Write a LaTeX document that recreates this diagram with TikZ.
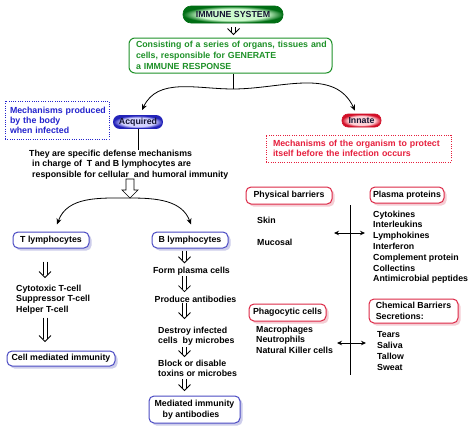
\documentclass[tikz,border=0pt]{standalone}
\usepackage{fontspec}
\setmainfont{Liberation Sans}
\usetikzlibrary{arrows.meta,shadows,calc}
\definecolor{gtxt}{RGB}{30,145,40}
\definecolor{gdark}{RGB}{0,110,20}
\definecolor{glight}{RGB}{205,250,205}
\definecolor{btxt}{RGB}{35,35,205}
\definecolor{bbord}{RGB}{75,75,195}
\definecolor{bdark}{RGB}{35,35,185}
\definecolor{blight}{RGB}{210,210,255}
\definecolor{rtxt}{RGB}{230,30,60}
\definecolor{rbord}{RGB}{220,40,70}
\definecolor{rdark}{RGB}{210,15,40}
\definecolor{rlight}{RGB}{255,210,215}
\definecolor{bshad}{RGB}{205,205,235}
\definecolor{rshad}{RGB}{245,205,212}
\definecolor{ptxt}{RGB}{20,20,50}
\pgfdeclareradialshading{gpillshade}{\pgfpoint{0bp}{0bp}}{color(0bp)=(glight); color(17bp)=(glight); color(25bp)=(gdark); color(50bp)=(gdark)}
\pgfdeclareradialshading{bpillshade}{\pgfpoint{0bp}{0bp}}{color(0bp)=(blight); color(17bp)=(blight); color(25bp)=(bdark); color(50bp)=(bdark)}
\pgfdeclareradialshading{rpillshade}{\pgfpoint{0bp}{0bp}}{color(0bp)=(rlight); color(17bp)=(rlight); color(25bp)=(rdark); color(50bp)=(rdark)}
\tikzset{
  every node/.style={font=\fontsize{8.8}{10.8}\selectfont\bfseries, inner sep=0pt},
  pillg/.style={shading=gpillshade, draw=gdark, line width=0.6pt, rounded corners=8pt, text=ptxt},
  pillb/.style={shading=bpillshade, draw=bdark, line width=0.6pt, rounded corners=6pt, text=ptxt},
  pillr/.style={shading=rpillshade, draw=rdark, line width=0.6pt, rounded corners=6pt, text=ptxt},
  gbox/.style={draw=gtxt, line width=1pt, rounded corners=6pt, text=gtxt, align=left},
  dotbox/.style={line width=1pt, dash pattern=on 1pt off 1.3pt, align=left},
  tbox/.style={draw=bbord, line width=1pt, fill=white, rounded corners=5pt,
    drop shadow={fill=bshad, shadow xshift=2.5pt, shadow yshift=-2.5pt, opacity=1}},
  rbox/.style={draw=rbord, line width=1pt, fill=white, rounded corners=5pt,
    drop shadow={fill=rshad, shadow xshift=2.5pt, shadow yshift=-2.5pt, opacity=1}},
  lst/.style={align=left, anchor=north west},
  dline/.style={line width=0.75pt},
  dhead/.style={line width=0.8pt},
  carrow/.style={line width=0.8pt, -{Stealth[length=6pt,width=5pt]}},
  harrow/.style={line width=0.8pt, {Stealth[length=5pt,width=4.5pt]}-{Stealth[length=5pt,width=4.5pt]}},
}
% double (hollow) down arrow from #1 to tip #2: two parallel lines and an open V head
\newcommand\dblarrow[2]{%
  \coordinate (dA) at #1; \coordinate (dB) at #2;
  \draw[dline] ($(dA)+(-2.1,0)$) -- ($(dB)+(-2.1,-2.3)$);
  \draw[dline] ($(dA)+(2.1,0)$) -- ($(dB)+(2.1,-2.3)$);
  \draw[dhead] ($(dB)+(-6,-6)$) -- (dB) -- ($(dB)+(6,-6)$);}
\begin{document}
\begin{tikzpicture}[x=1pt,y=-1pt]
\useasboundingbox[fill=white] (0,0) rectangle (474,434);

% top
\node[pillg, minimum width=100pt, minimum height=17pt] (imm) at (233,14.5) {IMMUNE SYSTEM};
\node[gbox, minimum width=203pt, minimum height=35pt, text width=199pt, inner xsep=2pt] (gen) at (230.5,55.5)
  {\hspace{5pt}Consisting of a series of organs, tissues and\\\hspace{5pt}cells, responsible for GENERATE\\\hspace{5pt}a IMMUNE RESPONSE};
\coordinate (ix) at (233.5,0);
\dblarrow{($(ix |- imm.south)+(0,4)$)}{($(ix |- gen.north)+(0,-3)$)}
\coordinate (split) at (233,89);
\draw[line width=0.8pt] (split |- gen.south) -- (split);

% acquired / innate
\node[pillb, minimum width=49pt, minimum height=13pt] (acq) at (138,122) {Acquired};
\node[pillr, minimum width=39pt, minimum height=13pt] (inn) at (361.5,120.5) {Innate};
\draw[carrow] (split) to[out=180, in=65] ($(acq.north)+(4,-5)$);
\draw[carrow] (split) to[out=0, in=115] ($(inn.north)+(-6.5,-3)$);

\node[dotbox, draw=btxt, text=btxt, minimum width=104pt, minimum height=38pt, text width=102pt, inner xsep=1pt, font=\fontsize{8.8}{10}\selectfont\bfseries] (mech) at (57,120)
  {\hspace{4pt}Mechanisms produced\\\hspace{4pt}by the body\\\hspace{4pt}when infected};
\node[dotbox, draw=rtxt, text=rtxt, minimum width=185pt, minimum height=27pt, text width=183pt, inner xsep=1pt, font=\fontsize{8.8}{10.2}\selectfont\bfseries] (imech) at (358.5,148.5)
  {\hspace{6pt}Mechanisms of the organism to protect\\\hspace{6pt}itself before the infection occurs};

% acquired branch
\node[lst] (spec) at (29,149.5) {They are specific defense mechanisms\\\hspace{3pt}in charge of\ \ T and B lymphocytes are\\\hspace{3pt}responsible for cellular\ \ and humoral immunity};
\draw[line width=0.8pt] (acq.south) -- (acq.south |- spec.north);
\coordinate (split2) at (130,198);
\draw[line width=0.7pt, fill=white] ($(split2)+(-4,-19)$) -- ($(split2)+(4,-19)$) -- ($(split2)+(4,-8)$) -- ($(split2)+(8,-8)$)
  -- (split2) -- ($(split2)+(-8,-8)$) -- ($(split2)+(-4,-8)$) -- cycle;

\node[tbox, minimum width=76pt, minimum height=16pt] (tT) at (51,240) {T lymphocytes};
\node[tbox, minimum width=76pt, minimum height=16pt] (tB) at (190,240) {B lymphocytes};
\draw[carrow] (split2) to[out=180, in=70] ($(tT.north)+(6,-7)$);
\draw[carrow] (split2) to[out=0, in=110] ($(tB.north)+(1,-7)$);

% T column
\node[lst] (tlist) at (16,284.5) {Cytotoxic T-cell\\Suppressor T-cell\\Helper T-cell};
\node[tbox, minimum width=108pt, minimum height=15pt] (cmi) at (61,358.5) {Cell mediated immunity};

% B column
\coordinate (bx) at (184.5,0);
\node (form) at (191.5,271) {Form plasma cells};
\node (prod) at (195.5,299) {Produce antibodies};
\node[lst] (destroy) at (158,326.5) {Destroy infected\\cells\ \ by microbes};
\node[lst] (block) at (158,359.5) {Block or disable\\toxins or microbes};
\node[tbox, minimum width=91pt, minimum height=27pt, align=left] (mab) at (194.5,409.5) {Mediated immunity\\\hspace{8pt}by antibodies};
\dblarrow{($(bx |- tB.south)+(0,2)$)}{($(bx |- form.north)+(0,-4)$)}
\dblarrow{($(bx |- form.south)+(0,1)$)}{($(bx |- prod.north)+(0,-4)$)}
\dblarrow{($(bx |- prod.south)+(0,1)$)}{($(bx |- destroy.north)+(0,-8)$)}
\dblarrow{($(bx |- destroy.south)+(0,1)$)}{($(bx |- block.north)+(0,-3)$)}
\dblarrow{($(bx |- block.south)+(0,2)$)}{($(bx |- mab.north)+(0,-5)$)}

% innate branch
\node[rbox, minimum width=86pt, minimum height=17pt] (phys) at (289,195.5) {Physical barriers};
\node[rbox, minimum width=74pt, minimum height=16pt] (plasma) at (407,195) {Plasma proteins};
\node[rbox, minimum width=77pt, minimum height=17pt] (phago) at (287.5,312.5) {Phagocytic cells};
\node[rbox, minimum width=89pt, minimum height=24pt, align=left] (chem) at (413.5,311) {Chemical Barriers\\Secretions:};
\node[lst] (skin) at (257,216.5) {Skin};
\node[lst] (muc) at (257,238.5) {Mucosal};
\node[lst] (plist) at (373,210.5) {Cytokines\\Interleukins\\Lymphokines\\Interferon\\Complement protein\\Collectins\\Antimicrobial peptides};
\node[lst] (phlist) at (256,325.5) {Macrophages\\Neutrophils\\Natural Killer cells};
\node[lst] (clist) at (377,331.5) {Tears\\Saliva\\Tallow\\Sweat};
\coordinate (vtop) at (350,205);
\coordinate (vbot) at (350,375);
\draw[line width=0.8pt] (vtop) -- (vbot);
\coordinate (h1l) at (334,233);
\coordinate (h1r) at (365,233);
\coordinate (h2l) at (337,343);
\coordinate (h2r) at (366,343);
\draw[harrow] (h1l) -- (h1r);
\draw[harrow] (h2l) -- (h2r);

% T column arrows
\coordinate (tcol) at (45,0);
\dblarrow{($(tcol |- tT.south)+(0,13)$)}{($(tcol |- tlist.north)+(0,-7)$)}
\dblarrow{($(tcol |- tlist.south)+(0,3)$)}{($(tcol |- cmi.north)+(0,-9)$)}
\end{tikzpicture}
\end{document}
